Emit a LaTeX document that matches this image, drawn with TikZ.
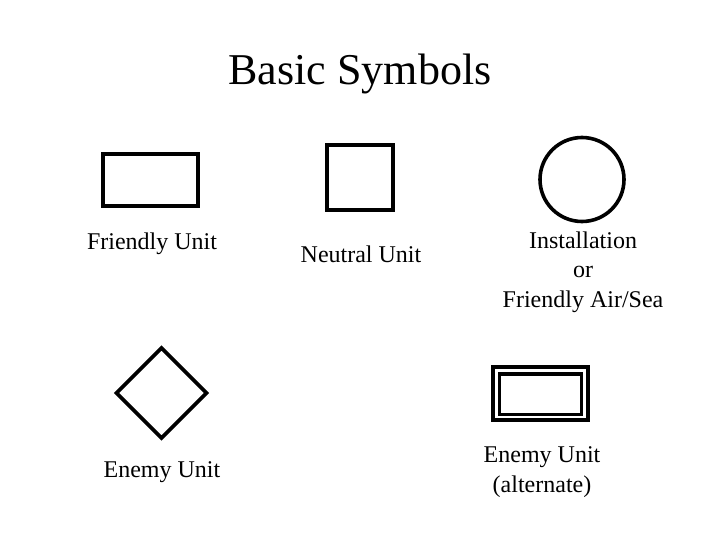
\documentclass[tikz,border=0pt]{standalone}
\usepackage{fontspec}
\setmainfont{Liberation Serif}
\usetikzlibrary{positioning,calc}

\tikzset{
  sym/.style={draw, line width=3.6pt, inner sep=0pt, outer sep=0pt},
  lbl/.style={anchor=base, align=center, font=\fontsize{24}{30}\selectfont}
}

\begin{document}
\begin{tikzpicture}[x=1pt,y=-1pt]
  \useasboundingbox (0,0) rectangle (720,540);
  \node[anchor=base, font=\fontsize{44}{53}\selectfont] (title) at (360,85) {Basic Symbols};
  % symbols
  \node[sym, rectangle, minimum width=95pt, minimum height=52pt] (friendly) at (150.5,180) {};
  \node[sym, rectangle, minimum width=66pt, minimum height=65pt] (neutral) at (360,177.5) {};
  \node[sym, circle, minimum size=84pt] (install) at (582,179.5) {};
  \coordinate (enemy) at (161.5,393);
  \draw[line width=3.6pt, line join=miter]
    ($(enemy)+(0,-45)$) -- ($(enemy)+(45,0)$) -- ($(enemy)+(0,45)$) -- ($(enemy)+(-45,0)$) -- cycle;
  \node[sym, rectangle, minimum width=95pt, minimum height=53pt] (enemyalt) at (540.5,393.5) {};
  \node[sym, rectangle, minimum width=82pt, minimum height=40.5pt] (enemyin) at (540.5,394.2) {};
  % labels (base = last line)
  \node[lbl] (friendlylbl) at (152,249) {Friendly Unit};
  \node[lbl] (neutrallbl) at (361,262) {Neutral Unit};
  \node[lbl, font=\fontsize{24}{29.5}\selectfont] (installlbl) at (583,307) {Installation\\or\\Friendly Air/Sea};
  \node[lbl] (enemylbl) at (162,477) {Enemy Unit};
  \node[lbl] (enemyaltlbl) at (542,492) {Enemy Unit\\(alternate)};
\end{tikzpicture}
\end{document}
